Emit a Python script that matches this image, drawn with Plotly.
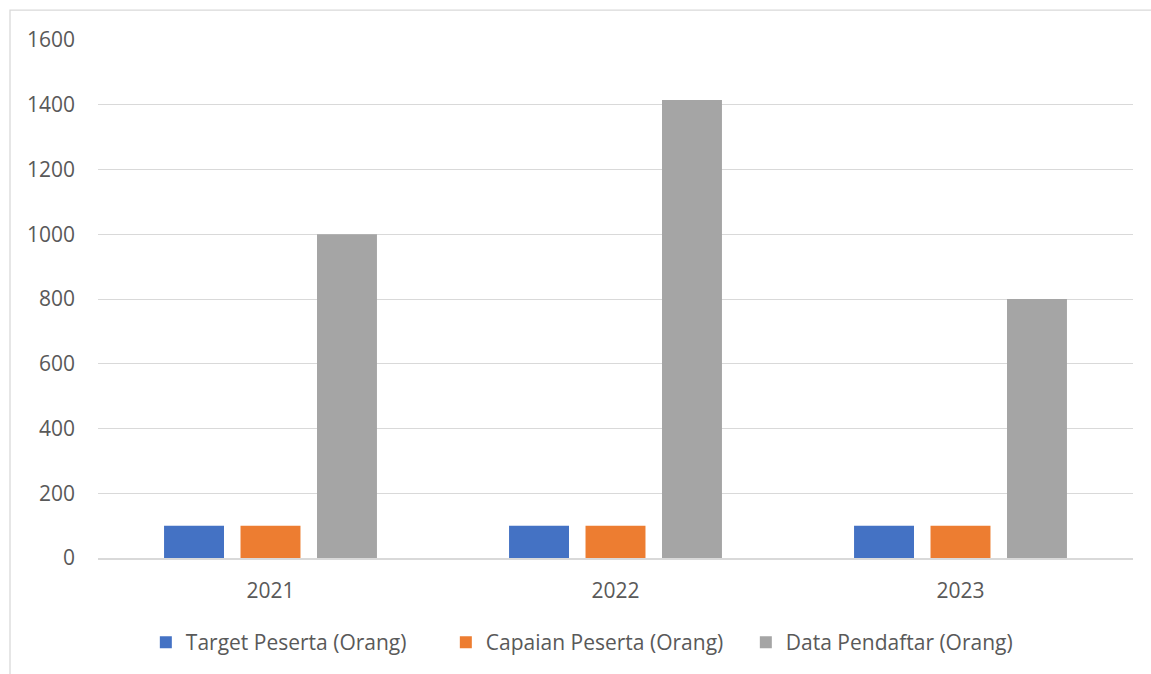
import plotly.graph_objects as go

years = ["2021", "2022", "2023"]
target_peserta = [100, 100, 100]
capaian_peserta = [100, 100, 100]
data_pendaftar = [1000, 1415, 800]

series = [
    ("Target Peserta (Orang)", target_peserta, "#4472c4"),
    ("Capaian Peserta (Orang)", capaian_peserta, "#ed7d31"),
    ("Data Pendaftar (Orang)", data_pendaftar, "#a5a5a5"),
]

W, H = 1151, 674
L, R, T, B = 98, 18, 40, 114.5

fig = go.Figure()
for name, vals, color in series:
    fig.add_trace(go.Bar(x=years, y=vals, name=name, marker=dict(color=color, line=dict(width=0))))

font = dict(family="Open Sans, Liberation Sans, sans-serif", size=21, color="#595959")

pw = W - L - R
ph = H - T - B
# chart frame (outer border, light grey)
fig.add_shape(type="rect", xref="paper", yref="paper",
              x0=(10 - L) / pw, x1=(W + 5 - L) / pw,
              y0=-(H + 5 - T - ph) / ph, y1=1 + (T - 10) / ph,
              line=dict(color="#d9d9d9", width=1.3), fillcolor="rgba(0,0,0,0)", layer="below")

fig.update_layout(
    width=W, height=H,
    margin=dict(l=L, r=R, t=T, b=B),
    plot_bgcolor="white", paper_bgcolor="white",
    font=font,
    barmode="group", bargap=0.335, bargroupgap=0.216,
    showlegend=True,
    legend=dict(orientation="h", x=0.481, xanchor="center", y=-0.161, yanchor="middle",
                font=font, itemwidth=30, traceorder="normal",
                entrywidth=255, entrywidthmode="pixels"),
    xaxis=dict(showgrid=False, showline=True, linecolor="#d9d9d9", linewidth=1.5,
               ticks="", ticklabelstandoff=13, tickfont=font),
    yaxis=dict(range=[0, 1600], dtick=200, showgrid=True, gridcolor="#d9d9d9", gridwidth=1.3,
               zeroline=False, showline=False, ticks="", ticklabelstandoff=22, tickfont=font),
)

fig.write_html("out.html")
